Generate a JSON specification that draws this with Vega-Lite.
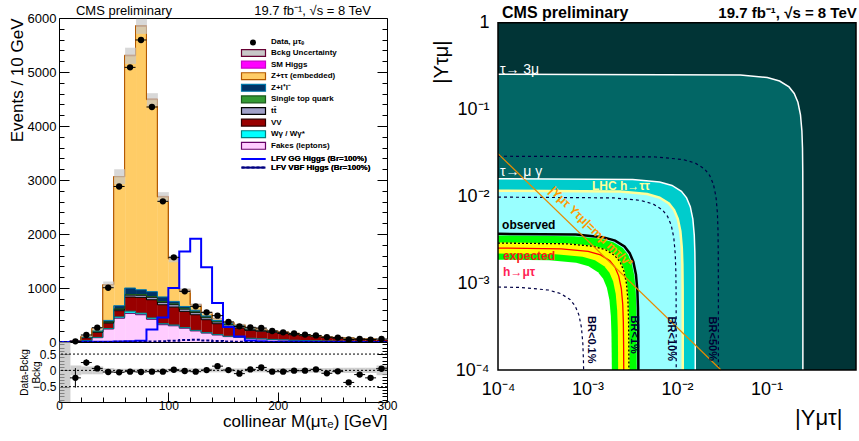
{
"$schema": "https://vega.github.io/schema/vega-lite/v6.json",
"padding": {"left": 7, "top": 4, "right": 0, "bottom": 0},
"bounds": "flush",
"spacing": 439,
"config": {
  "font": "Liberation Sans",
  "view": {"stroke": "#000", "strokeWidth": 1},
  "axis": {"labelFont": "Liberation Sans", "titleFont": "Liberation Sans", "labelColor": "#000", "titleColor": "#000", "tickColor": "#000", "grid": false, "titleFontWeight": "normal", "labelOverlap": false, "labelBound": false, "labelFlush": false},
  "legend": {"labelFont": "Liberation Sans", "labelFontWeight": "bold", "labelFontSize": 8, "labelColor": "#000", "padding": 0, "labelLimit": 300},
  "text": {"font": "Liberation Sans"}
},
"datasets": {
  "comps": [
    {"comp": "Fakes (leptons)", "k": 1, "lo": [0,10,20,30,40,50,60,70,80,90,100,110,120,130,140,150,160,170,180,190,200,210,220,230,240,250,260,270,280,290], "v": [0,3,25,80,240,440,530,505,420,320,300,255,205,165,130,100,85,65,55,45,38,30,25,20,17,14,12,10,8,7]},
    {"comp": "Wγ / Wγ*", "k": 2, "lo": [0,10,20,30,40,50,60,70,80,90,100,110,120,130,140,150,160,170,180,190,200,210,220,230,240,250,260,270,280,290], "v": [0,1,3,5,10,25,40,30,25,20,15,12,10,8,7,6,5,4,4,3,3,2,2,2,1,1,1,1,1,1]},
    {"comp": "VV", "k": 3, "lo": [0,10,20,30,40,50,60,70,80,90,100,110,120,130,140,150,160,170,180,190,200,210,220,230,240,250,260,270,280,290], "v": [2,8,50,95,100,115,263,291,338,350,332,300,290,240,202,184,170,146,141,132,117,103,90,78,67,57,50,44,40,36]},
    {"comp": "tt̄", "k": 4, "lo": [0,10,20,30,40,50,60,70,80,90,100,110,120,130,140,150,160,170,180,190,200,210,220,230,240,250,260,270,280,290], "v": [0,1,5,10,15,25,35,40,45,45,45,42,40,37,33,30,27,24,21,18,16,14,12,10,9,8,7,6,5,5]},
    {"comp": "Single top quark", "k": 5, "lo": [0,10,20,30,40,50,60,70,80,90,100,110,120,130,140,150,160,170,180,190,200,210,220,230,240,250,260,270,280,290], "v": [0,0,2,3,5,8,12,13,15,15,15,14,13,12,11,10,9,8,7,6,5,5,4,4,3,3,3,2,2,2]},
    {"comp": "Z+l⁺l⁻", "k": 6, "lo": [0,10,20,30,40,50,60,70,80,90,100,110,120,130,140,150,160,170,180,190,200,210,220,230,240,250,260,270,280,290], "v": [0,1,5,12,30,60,120,90,90,85,45,35,30,22,14,11,8,6,5,4,4,3,3,2,2,1,1,1,1,1]},
    {"comp": "Z+ττ (embedded)", "k": 7, "lo": [0,10,20,30,40,50,60,70,80,90,100,110,120,130,140,150,160,170,180,190,200,210,220,230,240,250,260,270,280,290], "v": [0,2,15,45,660,2387,4300,4877,3555,1850,785,299,100,60,35,25,18,11,5,4,3,3,2,2,1,1,1,1,1,0]},
    {"comp": "SM Higgs", "k": 8, "lo": [0,10,20,30,40,50,60,70,80,90,100,110,120,130,140,150,160,170,180,190,200,210,220,230,240,250,260,270,280,290], "v": [0,0,0,0,2,5,12,15,14,12,10,8,6,4,3,2,1,1,1,1,0,0,0,0,0,0,0,0,0,0]}
  ],
  "bins": [
    {"lo":0,"hi":10,"c":5,"d":null,"ulo":0,"uhi":4,"r":null,"rlo":-0.97,"rhi":0.87,"elo":null,"ehi":null},
    {"lo":10,"hi":20,"c":15,"d":12,"ulo":11,"uhi":21,"r":-0.23,"rlo":-0.15,"rhi":0.15,"elo":-0.53,"ehi":0.07},
    {"lo":20,"hi":30,"c":25,"d":130,"ulo":93,"uhi":117,"r":0.24,"rlo":-0.12,"rhi":0.12,"elo":0.14,"ehi":0.34},
    {"lo":30,"hi":40,"c":35,"d":265,"ulo":225,"uhi":275,"r":0.06,"rlo":-0.12,"rhi":0.12,"elo":-0.01,"ehi":0.13},
    {"lo":40,"hi":50,"c":45,"d":1005,"ulo":1000,"uhi":1120,"r":-0.05,"rlo":-0.07,"rhi":0.07,"elo":-0.08,"ehi":-0.02},
    {"lo":50,"hi":60,"c":55,"d":2880,"ulo":2920,"uhi":3200,"r":-0.06,"rlo":-0.05,"rhi":0.05,"elo":-0.09,"ehi":-0.03},
    {"lo":60,"hi":70,"c":65,"d":5086,"ulo":5150,"uhi":5450,"r":-0.04,"rlo":-0.05,"rhi":0.05,"elo":-0.07,"ehi":-0.01},
    {"lo":70,"hi":80,"c":75,"d":5593,"ulo":5706,"uhi":5986,"r":-0.05,"rlo":-0.05,"rhi":0.05,"elo":-0.08,"ehi":-0.02},
    {"lo":80,"hi":90,"c":85,"d":4352,"ulo":4368,"uhi":4608,"r":-0.04,"rlo":-0.05,"rhi":0.05,"elo":-0.07,"ehi":-0.01},
    {"lo":90,"hi":100,"c":95,"d":2605,"ulo":2595,"uhi":2775,"r":-0.04,"rlo":-0.05,"rhi":0.05,"elo":-0.07,"ehi":-0.01},
    {"lo":100,"hi":110,"c":105,"d":1568,"ulo":1477,"uhi":1597,"r":0.02,"rlo":-0.06,"rhi":0.06,"elo":-0.01,"ehi":0.05},
    {"lo":110,"hi":120,"c":115,"d":938,"ulo":917,"uhi":997,"r":-0.02,"rlo":-0.06,"rhi":0.06,"elo":-0.05,"ehi":0.01},
    {"lo":120,"hi":130,"c":125,"d":660,"ulo":658,"uhi":718,"r":-0.04,"rlo":-0.06,"rhi":0.06,"elo":-0.07,"ehi":-0.01},
    {"lo":130,"hi":140,"c":135,"d":549,"ulo":519,"uhi":569,"r":0.01,"rlo":-0.06,"rhi":0.06,"elo":-0.02,"ehi":0.04},
    {"lo":140,"hi":150,"c":145,"d":488,"ulo":412,"uhi":452,"r":0.13,"rlo":-0.06,"rhi":0.06,"elo":0.08,"ehi":0.18},
    {"lo":150,"hi":160,"c":155,"d":370,"ulo":349,"uhi":383,"r":0.01,"rlo":-0.06,"rhi":0.06,"elo":-0.04,"ehi":0.06},
    {"lo":160,"hi":170,"c":165,"d":290,"ulo":307,"uhi":337,"r":-0.1,"rlo":-0.06,"rhi":0.06,"elo":-0.15,"ehi":-0.05},
    {"lo":170,"hi":180,"c":175,"d":272,"ulo":252,"uhi":276,"r":0.03,"rlo":-0.06,"rhi":0.06,"elo":-0.02,"ehi":0.08},
    {"lo":180,"hi":190,"c":185,"d":259,"ulo":227,"uhi":249,"r":0.09,"rlo":-0.06,"rhi":0.06,"elo":0.04,"ehi":0.14},
    {"lo":190,"hi":200,"c":195,"d":204,"ulo":202,"uhi":222,"r":-0.04,"rlo":-0.06,"rhi":0.06,"elo":-0.09,"ehi":0.01},
    {"lo":200,"hi":210,"c":205,"d":179,"ulo":177,"uhi":195,"r":-0.04,"rlo":-0.07,"rhi":0.07,"elo":-0.09,"ehi":0.01},
    {"lo":210,"hi":220,"c":215,"d":158,"ulo":152,"uhi":168,"r":-0.01,"rlo":-0.07,"rhi":0.07,"elo":-0.06,"ehi":0.04},
    {"lo":220,"hi":230,"c":225,"d":137,"ulo":131,"uhi":145,"r":-0.01,"rlo":-0.07,"rhi":0.07,"elo":-0.06,"ehi":0.04},
    {"lo":230,"hi":240,"c":235,"d":122,"ulo":112,"uhi":124,"r":0.03,"rlo":-0.07,"rhi":0.07,"elo":-0.02,"ehi":0.08},
    {"lo":240,"hi":250,"c":245,"d":91,"ulo":94,"uhi":106,"r":-0.09,"rlo":-0.07,"rhi":0.07,"elo":-0.14,"ehi":-0.04},
    {"lo":250,"hi":260,"c":255,"d":82,"ulo":80,"uhi":90,"r":-0.03,"rlo":-0.08,"rhi":0.08,"elo":-0.08,"ehi":0.02},
    {"lo":260,"hi":270,"c":265,"d":47,"ulo":70,"uhi":80,"r":-0.37,"rlo":-0.08,"rhi":0.08,"elo":-0.42,"ehi":-0.32},
    {"lo":270,"hi":280,"c":275,"d":57,"ulo":60,"uhi":70,"r":-0.13,"rlo":-0.08,"rhi":0.08,"elo":-0.18,"ehi":-0.08},
    {"lo":280,"hi":290,"c":285,"d":45,"ulo":53,"uhi":63,"r":-0.23,"rlo":-0.08,"rhi":0.08,"elo":-0.28,"ehi":-0.18},
    {"lo":290,"hi":300,"c":295,"d":55,"ulo":47,"uhi":57,"r":0.05,"rlo":-0.15,"rhi":0.15,"elo":0,"ehi":0.1}
  ],
  "sig": [
    {"s": "LFV GG Higgs (Br=100%)", "x": [0,10,20,30,40,50,60,70,80,90,100,110,120,130,140,150,160,170,180,190,200,210,220,230,240,250,260,270,280,290,300], "v": [2,3,3,3,5,8,12,25,230,456,1000,1678,1913,1382,722,278,104,30,12,6,4,3,3,2,2,2,2,2,2,2,2]},
    {"s": "LFV VBF Higgs (Br=100%)", "x": [0,10,20,30,40,50,60,70,80,90,100,110,120,130,140,150,160,170,180,190,200,210,220,230,240,250,260,270,280,290,300], "v": [0,0,1,1,2,3,4,6,10,15,25,35,40,30,18,8,4,2,1,1,1,1,0,0,0,0,0,0,0,0,0]}
  ],
  "curves": [
    {"cv":"A","x":[0.0001,0.051,0.102,0.14,0.1785,0.204,0.2244,0.2397,0.2486,0.2525,0.2542,0.2549,0.255],"y":[0.255,0.2498,0.2337,0.213,0.1821,0.153,0.1211,0.087,0.0567,0.036,0.0197,0.00806,0.0001]},
    {"cv":"B","x":[0.0001,0.0058,0.0116,0.01595,0.0203,0.0232,0.02552,0.02726,0.02828,0.02871,0.02891,0.02899,0.029],"y":[0.029,0.02841,0.02658,0.02422,0.02071,0.0174,0.01378,0.0099,0.00644,0.00409,0.00224,0.000916,0.0001]},
    {"cv":"C","x":[0.0001,0.0032,0.0064,0.0088,0.0112,0.0128,0.01408,0.01504,0.0156,0.01584,0.01595,0.015992,0.016],"y":[0.016,0.01568,0.01466,0.01336,0.01143,0.0096,0.0076,0.00546,0.003555,0.002258,0.001238,0.000506,0.0001]},
    {"cv":"D","x":[0.0001,0.00232,0.00464,0.00638,0.00812,0.00928,0.010208,0.010904,0.01131,0.011484,0.011565,0.011594,0.0116],"y":[0.0116,0.011366,0.010631,0.009688,0.008284,0.00696,0.00551,0.003958,0.002578,0.001637,0.000898,0.000367,0.0001]},
    {"cv":"E","x":[0.0001,0.00196,0.00392,0.00539,0.00686,0.00784,0.008624,0.009212,0.009555,0.009702,0.009771,0.009795,0.0098],"y":[0.0098,0.009602,0.008982,0.008185,0.006998,0.00588,0.004655,0.003344,0.002178,0.001383,0.000759,0.00031,0.0001]},
    {"cv":"F","x":[0.0001,0.00074,0.00148,0.002035,0.00259,0.00296,0.003256,0.003478,0.003608,0.003663,0.003689,0.003698,0.0037],"y":[0.0037,0.003625,0.003391,0.00309,0.002642,0.00222,0.001758,0.001262,0.000822,0.000522,0.000286,0.000117,0.0001]},
    {"cv":"G","x":[0.0001,0.00071,0.00142,0.001953,0.002485,0.00284,0.003124,0.003337,0.003461,0.003515,0.003539,0.00355],"y":[0.003548,0.003478,0.003254,0.002965,0.002535,0.00213,0.001686,0.001211,0.000789,0.000501,0.000275,0.0001]},
    {"cv":"H","x":[0.0001,0.00059,0.00118,0.001623,0.002065,0.00236,0.002596,0.002773,0.002876,0.002921,0.002941,0.00295],"y":[0.002948,0.00289,0.002704,0.002464,0.002107,0.00177,0.001401,0.001007,0.000656,0.000416,0.000228,0.0001]},
    {"cv":"I","x":[0.0001,0.00058,0.00116,0.001595,0.00203,0.00232,0.002552,0.002726,0.002828,0.002871,0.002891,0.0029],"y":[0.002898,0.002841,0.002658,0.002422,0.002071,0.00174,0.001378,0.00099,0.000644,0.000409,0.000224,0.0001]},
    {"cv":"J","x":[0.0001,0.000508,0.001016,0.001397,0.001778,0.002032,0.002235,0.002388,0.002477,0.002515,0.002532,0.00254],"y":[0.002538,0.002489,0.002328,0.002121,0.001814,0.001524,0.001207,0.000867,0.000564,0.000358,0.000197,0.0001]},
    {"cv":"K","x":[0.0001,0.00044,0.00088,0.00121,0.00154,0.00176,0.001936,0.002068,0.002145,0.002178,0.002193,0.0022],"y":[0.002198,0.002156,0.002016,0.001837,0.001571,0.00132,0.001045,0.000751,0.000489,0.00031,0.00017,0.0001]},
    {"cv":"L","x":[0.0001,0.000374,0.000748,0.001029,0.001309,0.001496,0.001646,0.001758,0.001823,0.001851,0.001864,0.00187],"y":[0.001867,0.001832,0.001714,0.001562,0.001335,0.001122,0.000888,0.000638,0.000416,0.000264,0.000145,0.0001]},
    {"cv":"M","x":[0.0001,0.000182,0.000364,0.0005,0.000637,0.000728,0.000801,0.000855,0.000887,0.000901,0.000905],"y":[0.000904,0.000892,0.000834,0.00076,0.00065,0.000546,0.000432,0.00031,0.000202,0.000128,0.0001]},
    {"cv":"O","x":[0.0001,0.031],"y":[0.031,0.0001]}
  ]
},
"hconcat": [
  {
    "bounds": "flush",
    "spacing": 0,
    "vconcat": [
      {
        "width": 328, "height": 324,
        "resolve": {"scale": {"stroke": "independent"}, "axis": {"y": "independent"}},
        "layer": [
          {
            "data": {"name": "comps"},
            "transform": [{"flatten": ["lo", "v"]}, {"stack": "v", "groupby": ["lo"], "sort": [{"field": "k", "order": "ascending"}], "as": ["v0", "v1"]}],
            "mark": {"type": "bar", "binSpacing": 0, "strokeWidth": 0},
            "encoding": {
              "x": {"field": "lo", "type": "quantitative", "bin": {"binned": true, "step": 10}, "scale": {"domain": [0, 300], "nice": false, "zero": false}, "axis": null},
              "y": {"field": "v0", "type": "quantitative", "scale": {"domain": [0, 6000], "nice": false},
                "axis": {"orient": "left", "values": [0,1000,2000,3000,4000,5000,6000], "format": "d", "ticks": false,
                  "labelFontSize": 13, "labelPadding": 3, "domain": false,
                  "title": "Events / 10 GeV", "titleFontSize": 17, "titleAnchor": "end", "titleAngle": -90, "titleAlign": "right", "titleBaseline": "middle", "titleX": -42, "titleY": 0}},
              "y2": {"field": "v1"},
              "fill": {"field": "comp", "type": "nominal",
                "scale": {"domain": ["Bckg Uncertainty", "SM Higgs", "Z+ττ (embedded)", "Z+l⁺l⁻", "Single top quark", "tt̄", "VV", "Wγ / Wγ*", "Fakes (leptons)"],
                  "range": ["#C8C8C8", "#FF00FF", "#FFCC66", "#003366", "#339933", "#A0A0C8", "#990000", "#00FFFF", "#FFCCFF"]},
                "legend": {"orient": "none", "legendX": 190.5, "legendY": 31, "title": null, "symbolType": "M-4,-1.15H4V1.15H-4Z", "symbolSize": 36, "labelOffset": 13.5, "rowPadding": -0.4, "symbolOpacity": 1,
                  "encode": {"symbols": {"update": {"strokeWidth": {"value": 1.2}, "stroke": {"signal": "['#660033','#CC00CC','#B35900','#0077AA','#1A5A1A','#000000','#300000','#008080','#660066'][indexof(['Bckg Uncertainty','SM Higgs','Z+ττ (embedded)','Z+l⁺l⁻','Single top quark','tt̄','VV','Wγ / Wγ*','Fakes (leptons)'], datum.value)]"}}}}}}
            }
          },
          {
            "data": {"name": "comps"},
            "transform": [{"flatten": ["lo", "v"]}, {"stack": "v", "groupby": ["lo"], "sort": [{"field": "k", "order": "ascending"}], "as": ["v0", "v1"]}],
            "mark": {"type": "line", "interpolate": "step-after", "strokeWidth": 1},
            "encoding": {
              "x": {"field": "lo", "type": "quantitative", "axis": null},
              "y": {"field": "v1", "type": "quantitative",
                "axis": {"orient": "left", "values": [0,200,400,600,800,1000,1200,1400,1600,1800,2000,2200,2400,2600,2800,3000,3200,3400,3600,3800,4000,4200,4400,4600,4800,5000,5200,5400,5600,5800,6000], "labels": false, "title": null, "domain": false,
                  "tickSize": {"condition": {"test": "datum.value % 1000 == 0", "value": -10}, "value": -5}}},
              "detail": {"field": "comp"},
              "stroke": {"field": "comp", "type": "nominal", "legend": null,
                "scale": {"domain": ["SM Higgs", "Z+ττ (embedded)", "Z+l⁺l⁻", "Single top quark", "tt̄", "VV", "Wγ / Wγ*", "Fakes (leptons)"],
                  "range": ["#B35900", "#B35900", "#0077AA", "#1A5A1A", "#000000", "#000000", "#008080", "#660066"]}}
            }
          },
          {
            "data": {"name": "bins"},
            "mark": {"type": "bar", "binSpacing": 0, "fillOpacity": 0.7},
            "encoding": {
              "x": {"field": "lo", "type": "quantitative", "bin": {"binned": true, "step": 10}, "axis": null},
              "y": {"field": "ulo", "type": "quantitative",
                "axis": {"orient": "right", "values": [0,200,400,600,800,1000,1200,1400,1600,1800,2000,2200,2400,2600,2800,3000,3200,3400,3600,3800,4000,4200,4400,4600,4800,5000,5200,5400,5600,5800,6000], "labels": false, "title": null, "domain": false,
                  "tickSize": {"condition": {"test": "datum.value % 1000 == 0", "value": -10}, "value": -5}}},
              "y2": {"field": "uhi"},
              "fill": {"datum": "Bckg Uncertainty"}
            }
          },
          {
            "data": {"name": "sig"},
            "transform": [{"flatten": ["x", "v"]}],
            "mark": {"type": "line", "interpolate": "step-after", "strokeWidth": 2},
            "encoding": {
              "x": {"field": "x", "type": "quantitative", "axis": null},
              "y": {"field": "v", "type": "quantitative", "axis": null},
              "stroke": {"field": "s", "type": "nominal", "scale": {"domain": ["LFV GG Higgs (Br=100%)", "LFV VBF Higgs (Br=100%)"], "range": ["#0000FF", "#000080"]},
                "legend": {"orient": "none", "legendX": 190.5, "legendY": 137, "title": null, "symbolType": "M-4,0H4", "symbolSize": 36, "symbolStrokeWidth": 2, "labelOffset": 13.5, "rowPadding": 0.6,
                  "encode": {"symbols": {"update": {"stroke": {"signal": "datum.value == 'LFV GG Higgs (Br=100%)' ? '#0000FF' : '#000080'"}, "strokeWidth": {"value": 2}}}}}},
              "strokeDash": {"field": "s", "type": "nominal", "scale": {"domain": ["LFV GG Higgs (Br=100%)", "LFV VBF Higgs (Br=100%)"], "range": [[1, 0], [3, 2]]},
                "legend": {"orient": "none", "legendX": 190.5, "legendY": 137, "title": null, "symbolType": "M-4,0H4", "symbolSize": 36, "symbolStrokeWidth": 2, "labelOffset": 13.5, "rowPadding": 0.6,
                  "encode": {"symbols": {"update": {"stroke": {"signal": "datum.value == 'LFV GG Higgs (Br=100%)' ? '#0000FF' : '#000080'"}, "strokeWidth": {"value": 2}}}}}}
            }
          },
          {
            "data": {"name": "bins"},
            "mark": {"type": "rule", "color": "#000", "strokeWidth": 1},
            "encoding": {
              "x": {"field": "lo", "type": "quantitative", "axis": null},
              "x2": {"field": "hi"},
              "y": {"field": "d", "type": "quantitative", "axis": null}
            }
          },
          {
            "data": {"name": "bins"},
            "mark": {"type": "point", "filled": true, "opacity": 1, "size": 40},
            "encoding": {
              "x": {"field": "c", "type": "quantitative", "axis": null},
              "y": {"field": "d", "type": "quantitative", "axis": null},
              "color": {"value": "#000"},
              "shape": {"datum": "Data, μτₑ", "type": "nominal", "scale": {"range": ["circle"]},
                "legend": {"orient": "none", "legendX": 190, "legendY": 20.4, "title": null, "symbolSize": 36, "labelOffset": 14, "symbolFillColor": "#000"}}
            }
          },
          {
            "data": {"values": [{}]},
            "mark": {"type": "text", "align": "left", "baseline": "middle", "fontSize": 13, "text": "CMS preliminary"},
            "encoding": {"x": {"datum": 15.5, "type": "quantitative", "axis": null}, "y": {"datum": 6135, "type": "quantitative", "axis": null}}
          },
          {
            "data": {"values": [{}]},
            "mark": {"type": "text", "align": "right", "baseline": "middle", "fontSize": 13, "text": "19.7 fb⁻¹, √s = 8 TeV"},
            "encoding": {"x": {"datum": 285.4, "type": "quantitative", "axis": null}, "y": {"datum": 6135, "type": "quantitative", "axis": null}}
          }
        ]
      },
      {
        "width": 328, "height": 60,
        "resolve": {"axis": {"y": "independent"}},
        "layer": [
          {
            "data": {"name": "bins"},
            "mark": {"type": "bar", "binSpacing": 0, "color": "#BBBBBB", "opacity": 0.7, "clip": true},
            "encoding": {
              "x": {"field": "lo", "type": "quantitative", "bin": {"binned": true, "step": 10}, "scale": {"domain": [0, 300], "nice": false, "zero": false},
                "axis": {"values": [0,20,40,60,80,100,120,140,160,180,200,220,240,260,280,300], "labelExpr": "datum.value % 100 == 0 ? format(datum.value, 'd') : ''",
                  "tickSize": {"condition": {"test": "datum.value % 100 == 0", "value": -10}, "value": -5},
                  "domain": false, "labelFontSize": 12, "labelPadding": 8,
                  "title": "collinear M(μτₑ) [GeV]", "titleFontSize": 17, "titleAnchor": "end", "titleAlign": "right", "titleX": 328, "titleY": 19, "titleBaseline": "middle"}},
              "y": {"field": "rlo", "type": "quantitative", "scale": {"domain": [-0.97, 0.87], "nice": false, "zero": false},
                "axis": {"orient": "left", "values": [-0.5, 0, 0.5], "labelExpr": "datum.value == 0 ? '0' : format(datum.value, '.1f')", "ticks": false,
                  "domain": false, "labelFontSize": 12, "labelPadding": 3,
                  "title": ["Data-Bckg", "Bckg"], "titleFontSize": 10, "titleAngle": -90, "titleX": -40, "titleBaseline": "top", "titleLineHeight": 12}},
              "y2": {"field": "rhi"}
            }
          },
          {
            "data": {"values": [{"lvl": 0.5}, {"lvl": 0}, {"lvl": -0.5}]},
            "mark": {"type": "rule", "color": "#000", "strokeDash": [2, 2], "strokeWidth": 1},
            "encoding": {
              "y": {"field": "lvl", "type": "quantitative",
                "axis": {"orient": "right", "values": [-0.9,-0.8,-0.7,-0.6,-0.5,-0.4,-0.3,-0.2,-0.1,0,0.1,0.2,0.3,0.4,0.5,0.6,0.7,0.8], "labels": false, "title": null, "domain": false,
                  "tickSize": {"condition": {"test": "datum.value == 0.5 || datum.value == 0 || datum.value == -0.5", "value": -10}, "value": -5}}}
            }
          },
          {
            "data": {"name": "bins"},
            "mark": {"type": "rule", "color": "#000", "strokeWidth": 1},
            "encoding": {
              "x": {"field": "c", "type": "quantitative"},
              "y": {"field": "elo", "type": "quantitative",
                "axis": {"orient": "left", "values": [-0.9,-0.8,-0.7,-0.6,-0.5,-0.4,-0.3,-0.2,-0.1,0,0.1,0.2,0.3,0.4,0.5,0.6,0.7,0.8], "labels": false, "title": null, "domain": false,
                  "tickSize": {"condition": {"test": "datum.value == 0.5 || datum.value == 0 || datum.value == -0.5", "value": -10}, "value": -5}}},
              "y2": {"field": "ehi"}
            }
          },
          {
            "data": {"name": "bins"},
            "mark": {"type": "rule", "color": "#000", "strokeWidth": 1},
            "encoding": {
              "x": {"field": "lo", "type": "quantitative"},
              "x2": {"field": "hi"},
              "y": {"field": "r", "type": "quantitative", "axis": null}
            }
          },
          {
            "data": {"name": "bins"},
            "mark": {"type": "circle", "color": "#000", "opacity": 1, "size": 40},
            "encoding": {
              "x": {"field": "c", "type": "quantitative"},
              "y": {"field": "r", "type": "quantitative", "axis": null}
            }
          }
        ]
      }
    ]
  },
  {
    "width": 358, "height": 352,
    "view": {"stroke": null},
    "data": {"name": "curves"},
    "transform": [{"flatten": ["x", "y"]}],
    "layer": [
      {
        "data": {"values": [{}]},
        "mark": {"type": "rect", "color": "#013436"},
        "encoding": {
          "x": {"datum": 0.0001, "type": "quantitative", "scale": {"type": "log", "domain": [0.0001, 1], "nice": false},
            "axis": {"values": [0.0001, 0.001, 0.01, 0.1], "labelExpr": "datum.value >= 0.09 ? '10⁻¹' : datum.value >= 0.009 ? '10⁻²' : datum.value >= 0.0009 ? '10⁻³' : '10⁻⁴'",
              "labelFontSize": 18, "ticks": false, "domain": false, "labelPadding": 10,
              "title": "|Yμτ|", "titleFontSize": 22, "titleAnchor": "end", "titleAlign": "right", "titleX": 344, "titleY": 47, "titleBaseline": "middle"}},
          "x2": {"datum": 1},
          "y": {"datum": 0.0001, "type": "quantitative", "scale": {"type": "log", "domain": [0.0001, 1.133], "nice": false},
            "axis": {"values": [0.0001, 0.001, 0.01, 0.1, 1], "labelExpr": "datum.value >= 0.99 ? '1' : datum.value >= 0.09 ? '10⁻¹' : datum.value >= 0.009 ? '10⁻²' : datum.value >= 0.0009 ? '10⁻³' : '10⁻⁴'",
              "labelFontSize": 18, "ticks": false, "domain": false, "labelPadding": 9,
              "title": "|Yτμ|", "titleFontSize": 20, "titleAnchor": "end", "titleAngle": -90, "titleAlign": "right", "titleX": -57, "titleY": 22, "titleBaseline": "middle"}},
          "y2": {"datum": 1}
        }
      },
      {"transform": [{"filter": "datum.cv == 'A'"}], "mark": {"type": "area", "color": "#026665"},
        "encoding": {"x": {"field": "x", "type": "quantitative"}, "y": {"field": "y", "type": "quantitative"}, "y2": {"datum": 0.0001}}},
      {"transform": [{"filter": "datum.cv == 'C'"}], "mark": {"type": "area", "color": "#00CCCC"},
        "encoding": {"x": {"field": "x", "type": "quantitative"}, "y": {"field": "y", "type": "quantitative"}, "y2": {"datum": 0.0001}}},
      {"transform": [{"filter": "datum.cv == 'D'"}], "mark": {"type": "area", "color": "#99FFFF"},
        "encoding": {"x": {"field": "x", "type": "quantitative"}, "y": {"field": "y", "type": "quantitative"}, "y2": {"datum": 0.0001}}},
      {"transform": [{"filter": "datum.cv == 'G'"}], "mark": {"type": "area", "color": "#00FF00"},
        "encoding": {"x": {"field": "x", "type": "quantitative"}, "y": {"field": "y", "type": "quantitative"}, "y2": {"datum": 0.0001}}},
      {"transform": [{"filter": "datum.cv == 'H'"}], "mark": {"type": "area", "color": "#FFFF00"},
        "encoding": {"x": {"field": "x", "type": "quantitative"}, "y": {"field": "y", "type": "quantitative"}, "y2": {"datum": 0.0001}}},
      {"transform": [{"filter": "datum.cv == 'K'"}], "mark": {"type": "area", "color": "#00FF00"},
        "encoding": {"x": {"field": "x", "type": "quantitative"}, "y": {"field": "y", "type": "quantitative"}, "y2": {"datum": 0.0001}}},
      {"transform": [{"filter": "datum.cv == 'L'"}], "mark": {"type": "area", "color": "#FFFFFF"},
        "encoding": {"x": {"field": "x", "type": "quantitative"}, "y": {"field": "y", "type": "quantitative"}, "y2": {"datum": 0.0001}}},
      {"transform": [{"filter": "datum.cv == 'A' || datum.cv == 'C'"}], "mark": {"type": "line", "color": "#FFFFFF", "strokeWidth": 1.5},
        "encoding": {"x": {"field": "x", "type": "quantitative"}, "y": {"field": "y", "type": "quantitative"}, "detail": {"field": "cv"}}},
      {"transform": [{"filter": "datum.cv == 'D'"}], "mark": {"type": "line", "color": "#FFFF99", "strokeWidth": 2.5},
        "encoding": {"x": {"field": "x", "type": "quantitative"}, "y": {"field": "y", "type": "quantitative"}}},
      {"transform": [{"filter": "datum.cv == 'B' || datum.cv == 'E' || datum.cv == 'M'"}], "mark": {"type": "line", "color": "#000044", "strokeWidth": 1.2, "strokeDash": [3, 3]},
        "encoding": {"x": {"field": "x", "type": "quantitative"}, "y": {"field": "y", "type": "quantitative"}, "detail": {"field": "cv"}}},
      {"transform": [{"filter": "datum.cv == 'I'"}], "mark": {"type": "line", "color": "#000000", "strokeWidth": 1.3, "strokeDash": [2, 2]},
        "encoding": {"x": {"field": "x", "type": "quantitative"}, "y": {"field": "y", "type": "quantitative"}}},
      {"transform": [{"filter": "datum.cv == 'J'"}], "mark": {"type": "line", "color": "#FF0000", "strokeWidth": 1.3},
        "encoding": {"x": {"field": "x", "type": "quantitative"}, "y": {"field": "y", "type": "quantitative"}}},
      {"transform": [{"filter": "datum.cv == 'F'"}], "mark": {"type": "line", "color": "#000000", "strokeWidth": 2.5},
        "encoding": {"x": {"field": "x", "type": "quantitative"}, "y": {"field": "y", "type": "quantitative"}}},
      {"transform": [{"filter": "datum.cv == 'O'"}], "mark": {"type": "line", "color": "#E88A00", "strokeWidth": 1.2},
        "encoding": {"x": {"field": "x", "type": "quantitative"}, "y": {"field": "y", "type": "quantitative"}}},
      {
        "data": {"values": [{}]},
        "mark": {"type": "rect", "fillOpacity": 0, "stroke": "#000", "strokeWidth": 1.5},
        "encoding": {"x": {"datum": 0.0001, "type": "quantitative"}, "x2": {"datum": 1}, "y": {"datum": 0.0001, "type": "quantitative"}, "y2": {"datum": 1}}
      },
      {"data": {"values": [{}]}, "mark": {"type": "text", "align": "left", "baseline": "middle", "fontSize": 14, "color": "#FFFFFF", "text": "τ→ 3μ"},
        "encoding": {"x": {"datum": 0.000105, "type": "quantitative"}, "y": {"datum": 0.286, "type": "quantitative"}}},
      {"data": {"values": [{}]}, "mark": {"type": "text", "align": "left", "baseline": "middle", "fontSize": 14, "color": "#FFFFFF", "text": "τ→ μ γ"},
        "encoding": {"x": {"datum": 0.000105, "type": "quantitative"}, "y": {"datum": 0.0193, "type": "quantitative"}}},
      {"data": {"values": [{}]}, "mark": {"type": "text", "align": "left", "baseline": "middle", "fontSize": 12, "fontWeight": "bold", "color": "#FFFF99", "text": "LHC h→ττ"},
        "encoding": {"x": {"datum": 0.00112, "type": "quantitative"}, "y": {"datum": 0.01333, "type": "quantitative"}}},
      {"data": {"values": [{}]}, "mark": {"type": "text", "align": "left", "baseline": "middle", "fontSize": 12, "fontWeight": "bold", "color": "#000000", "text": "observed"},
        "encoding": {"x": {"datum": 0.000111, "type": "quantitative"}, "y": {"datum": 0.0047, "type": "quantitative"}}},
      {"data": {"values": [{}]}, "mark": {"type": "text", "align": "left", "baseline": "middle", "fontSize": 12, "fontWeight": "bold", "color": "#FF1A1A", "text": "expected"},
        "encoding": {"x": {"datum": 0.000114, "type": "quantitative"}, "y": {"datum": 0.00203, "type": "quantitative"}}},
      {"data": {"values": [{}]}, "mark": {"type": "text", "align": "left", "baseline": "middle", "fontSize": 12, "fontWeight": "bold", "color": "#FF2255", "text": "h→μτ"},
        "encoding": {"x": {"datum": 0.000114, "type": "quantitative"}, "y": {"datum": 0.00136, "type": "quantitative"}}},
      {"data": {"values": [{}]}, "mark": {"type": "text", "align": "center", "baseline": "middle", "fontSize": 12, "fontWeight": "bold", "color": "#FF9900", "angle": 44, "text": "|Yμτ Yτμ|=mμ mτ/v²"},
        "encoding": {"x": {"datum": 0.00109, "type": "quantitative"}, "y": {"datum": 0.00446, "type": "quantitative"}}},
      {"data": {"values": [{}]}, "mark": {"type": "text", "align": "center", "baseline": "middle", "fontSize": 11, "fontWeight": "bold", "color": "#000033", "angle": 90, "text": "BR<0.1%"},
        "encoding": {"x": {"datum": 0.001086, "type": "quantitative"}, "y": {"datum": 0.000223, "type": "quantitative"}}},
      {"data": {"values": [{}]}, "mark": {"type": "text", "align": "center", "baseline": "middle", "fontSize": 11, "fontWeight": "bold", "color": "#000033", "angle": 90, "text": "BR<1%"},
        "encoding": {"x": {"datum": 0.00328, "type": "quantitative"}, "y": {"datum": 0.000255, "type": "quantitative"}}},
      {"data": {"values": [{}]}, "mark": {"type": "text", "align": "center", "baseline": "middle", "fontSize": 11, "fontWeight": "bold", "color": "#000033", "angle": 90, "text": "BR<10%"},
        "encoding": {"x": {"datum": 0.00851, "type": "quantitative"}, "y": {"datum": 0.000229, "type": "quantitative"}}},
      {"data": {"values": [{}]}, "mark": {"type": "text", "align": "center", "baseline": "middle", "fontSize": 11, "fontWeight": "bold", "color": "#000033", "angle": 90, "text": "BR<50%"},
        "encoding": {"x": {"datum": 0.0244, "type": "quantitative"}, "y": {"datum": 0.000229, "type": "quantitative"}}},
      {"data": {"values": [{}]}, "mark": {"type": "text", "align": "left", "baseline": "middle", "fontSize": 16, "fontWeight": "bold", "color": "#000", "text": "CMS preliminary"},
        "encoding": {"x": {"datum": 0.000111, "type": "quantitative"}, "y": {"datum": 1.3, "type": "quantitative"}}},
      {"data": {"values": [{}]}, "mark": {"type": "text", "align": "right", "baseline": "middle", "fontSize": 15, "fontWeight": "bold", "color": "#000", "text": "19.7 fb⁻¹, √s = 8 TeV"},
        "encoding": {"x": {"datum": 1.02, "type": "quantitative"}, "y": {"datum": 1.3, "type": "quantitative"}}}
    ]
  }
]
}
